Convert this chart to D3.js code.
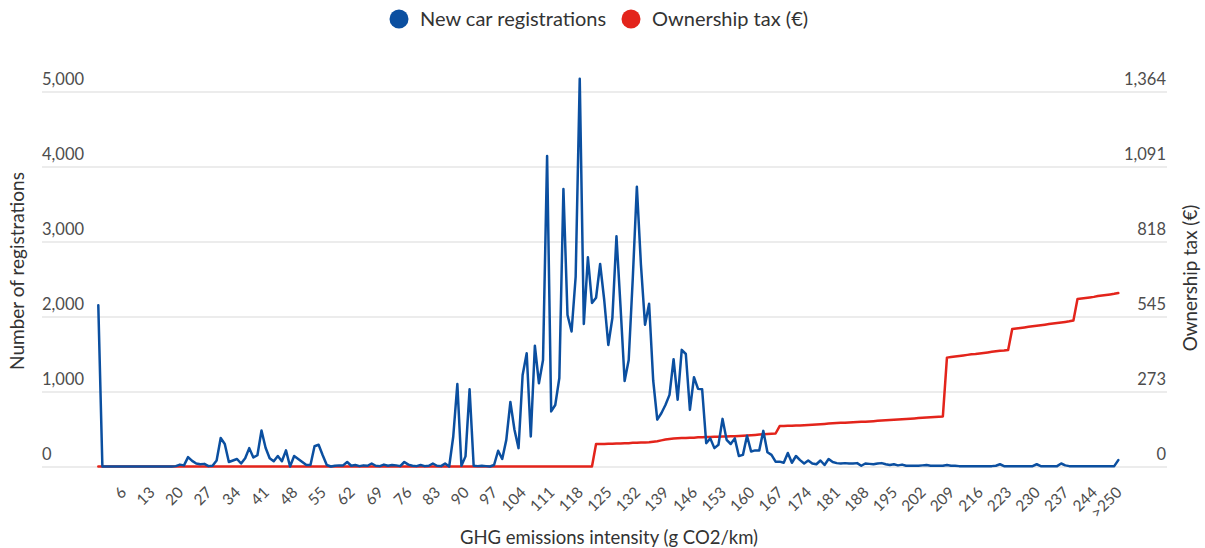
<!DOCTYPE html>
<html>
<head>
<meta charset="utf-8">
<script src="https://cdn.jsdelivr.net/npm/d3@7"></script>
<style>
  html, body { margin: 0; padding: 0; background: #fff; }
  svg { display: block; font-family: Lato, "Open Sans", sans-serif; }
</style>
</head>
<body>
<svg id="chart" width="1205" height="548"></svg>
<script>
// ---------- DATA ----------
const categories = d3.range(0, 250).map(String).concat([">250"]);

const xTickLabels = ["6","13","20","27","34","41","48","55","62","69","76","83","90","97",
  "104","111","118","125","132","139","146","153","160","167","174","181","188","195",
  "202","209","216","223","230","237","244",">250"];

const leftTicks = [0, 1000, 2000, 3000, 4000, 5000];
const leftTickLabels = ["0", "1,000", "2,000", "3,000", "4,000", "5,000"];
const rightTicks = [0, 272.8, 545.6, 818.4, 1091.2, 1364];
const rightTickLabels = ["0", "273", "545", "818", "1,091", "1,364"];

const seriesNames = ["New car registrations", "Ownership tax (€)"];

// New car registrations, one value per category (0 .. 249, >250)
const registrations = [
  2150, 0, 0, 0, 0, 0, 0, 0, 0, 0,            // 0-9
  0, 0, 0, 0, 0, 0, 0, 0, 0, 5,               // 10-19
  25, 15, 125, 75, 40, 30, 35, 5, 10, 80,     // 20-29
  380, 300, 60, 80, 100, 40, 110, 245, 120, 150, // 30-39
  480, 250, 110, 70, 140, 70, 215, 0, 140, 100,  // 40-49
  60, 20, 20, 270, 290, 150, 20, 0, 10, 15,   // 50-59
  15, 60, 10, 20, 5, 15, 10, 40, 10, 5,       // 60-69
  25, 10, 20, 15, 5, 60, 25, 10, 5, 20,       // 70-79
  5, 10, 40, 10, 5, 40, 0, 400, 1100, 10,     // 80-89
  135, 1030, 10, 5, 10, 5, 0, 20, 210, 100,   // 90-99
  355, 860, 490, 245, 1220, 1510, 400, 1610, 1110, 1420, // 100-109
  4140, 735, 820, 1180, 3700, 2020, 1800, 2530, 5170, 1900, // 110-119
  2790, 2180, 2250, 2700, 2220, 1620, 1980, 3070, 2130, 1140, // 120-129
  1420, 2510, 3730, 2690, 1890, 2170, 1150, 625, 710, 820,    // 130-139
  955, 1430, 890, 1555, 1500, 755, 1190, 1035, 1030, 310,     // 140-149
  375, 245, 290, 635, 355, 300, 375, 140, 155, 410,           // 150-159
  200, 215, 215, 475, 190, 155, 65, 65, 50, 180,              // 160-169
  50, 140, 85, 40, 80, 40, 30, 80, 20, 100,                   // 170-179
  60, 45, 40, 45, 40, 40, 45, 10, 40, 35,                     // 180-189
  30, 40, 45, 30, 20, 30, 15, 25, 10, 10,                     // 190-199
  10, 10, 15, 20, 10, 10, 10, 10, 20, 10,                     // 200-209
  10, 5, 5, 5, 5, 5, 5, 5, 5, 5,                              // 210-219
  10, 30, 5, 5, 5, 5, 5, 5, 5, 5,                             // 220-229
  30, 5, 5, 5, 5, 5, 40, 15, 5, 5,                            // 230-239
  5, 5, 5, 5, 5, 5, 5, 5, 5, 5,                               // 240-249
  85                                                          // >250
];

// Ownership tax (€), one value per category
const ownershipTax = [
  0,0,0,0,0,0,0,0,0,0, 0,0,0,0,0,0,0,0,0,0,   // 0-19
  0,0,0,0,0,0,0,0,0,0, 0,0,0,0,0,0,0,0,0,0,   // 20-39
  0,0,0,0,0,0,0,0,0,0, 0,0,0,0,0,0,0,0,0,0,   // 40-59
  0,0,0,0,0,0,0,0,0,0, 0,0,0,0,0,0,0,0,0,0,   // 60-79
  0,0,0,0,0,0,0,0,0,0, 0,0,0,0,0,0,0,0,0,0,   // 80-99
  0,0,0,0,0,0,0,0,0,0, 0,0,0,0,0,0,0,0,0,0,   // 100-119
  0,0,                                        // 120-121
  82,82,82,83,83,84,84,85,85,86,              // 122-131
  86,87,87,88,90,92,95,98,100,102,            // 132-141
  103,104,104,105,105,106,106,107,107,108,    // 142-151
  108,109,109,110,110,111,112,113,114,115,    // 152-161
  116,117,118,119,120,                        // 162-166
  147,147,148,148,149,149,150,151,152,153,    // 167-176
  154,155,156,157,158,159,159,160,161,162,    // 177-186
  163,163,164,165,166,167,168,169,170,171,    // 187-196
  172,173,174,175,176,177,178,179,180,181,    // 197-206
  182,                                        // 207
  396,398,400,402,404,406,408,409,411,413,415,417,419,421,422,424, // 208-223
  500,502,504,506,508,510,512,514,516,518,520,522,524,526,528,531, // 224-239
  609,611,613,615,617,620,622,624,626,628,631                      // 240-250
];

// ---------- CHART ----------
const svg = d3.select("#chart");
const blue = "#0b4fa0", red = "#e3241b";
const tickColor = "#4d4d4d", titleColor = "#333";

const x = d3.scalePoint().domain(categories).range([98.3, 1118.3]);
const yL = d3.scaleLinear().domain([0, 5000]).range([466.5, 91.5]);
const yR = d3.scaleLinear().domain([0, 1364]).range([466.5, 91.5]);

// Gridlines + left labels
const gLeft = svg.append("g").attr("transform", "translate(42,0)")
  .call(d3.axisRight(yL).tickValues(leftTicks).tickSize(1125)
    .tickFormat((d, i) => leftTickLabels[i]));
gLeft.select(".domain").remove();
gLeft.selectAll(".tick line").attr("stroke", "#d9d9d9").attr("stroke-width", 1.2);
gLeft.selectAll(".tick text")
  .attr("x", 0).attr("dy", "-7").attr("text-anchor", "start")
  .attr("fill", tickColor).style("font-size", "16.5px").style("font-family", "Lato, sans-serif");

// Right labels
const gRight = svg.append("g").attr("transform", "translate(1166,0)")
  .call(d3.axisLeft(yR).tickValues(rightTicks).tickSize(0)
    .tickFormat((d, i) => rightTickLabels[i]));
gRight.select(".domain").remove();
gRight.selectAll(".tick text")
  .attr("x", 0).attr("dy", "-7").attr("text-anchor", "end")
  .attr("fill", tickColor).style("font-size", "16.5px").style("font-family", "Lato, sans-serif");

// X axis
const tickCats = categories.filter(c => xTickLabels.includes(c));
const gX = svg.append("g").attr("transform", "translate(0,466.5)")
  .call(d3.axisBottom(x).tickValues(tickCats).tickSize(0));
gX.select(".domain").remove();
gX.selectAll(".tick text")
  .attr("x", 0).attr("y", 0).attr("dy", "0")
  .attr("text-anchor", "end")
  .attr("transform", "translate(4,27) rotate(-45)")
  .attr("fill", tickColor).style("font-size", "15.5px").style("font-family", "Lato, sans-serif");

// Lines
const lineReg = d3.line().x((d, i) => x(categories[i])).y(d => yL(d));
const lineTax = d3.line().x((d, i) => x(categories[i])).y(d => yR(d));

svg.append("path").datum(ownershipTax)
  .attr("d", lineTax).attr("fill", "none").attr("stroke", red)
  .attr("stroke-width", 2.5).attr("stroke-linejoin", "round").attr("stroke-linecap", "round");

svg.append("path").datum(registrations)
  .attr("d", lineReg).attr("fill", "none").attr("stroke", blue)
  .attr("stroke-width", 2.5).attr("stroke-linejoin", "round").attr("stroke-linecap", "round");

// Axis titles
svg.append("text").attr("transform", "translate(24,271) rotate(-90)")
  .attr("text-anchor", "middle").attr("fill", titleColor)
  .style("font-size", "19px").text("Number of registrations");
svg.append("text").attr("transform", "translate(1197,278) rotate(-90)")
  .attr("text-anchor", "middle").attr("fill", titleColor)
  .style("font-size", "18.8px").text("Ownership tax (€)");
svg.append("text").attr("x", 609).attr("y", 544)
  .attr("text-anchor", "middle").attr("fill", titleColor)
  .style("font-size", "18.5px").text("GHG emissions intensity (g CO2/km)");

// Legend
const legend = [
  { name: seriesNames[0], color: blue, cx: 399, tx: 420 },
  { name: seriesNames[1], color: red, cx: 631, tx: 652 }
];
const lg = svg.append("g");
lg.selectAll("circle").data(legend).join("circle")
  .attr("cx", d => d.cx).attr("cy", 19).attr("r", 9.5).attr("fill", d => d.color);
lg.selectAll("text").data(legend).join("text")
  .attr("x", d => d.tx).attr("y", 26).attr("fill", titleColor)
  .style("font-size", "20px").text(d => d.name);
</script>
</body>
</html>
